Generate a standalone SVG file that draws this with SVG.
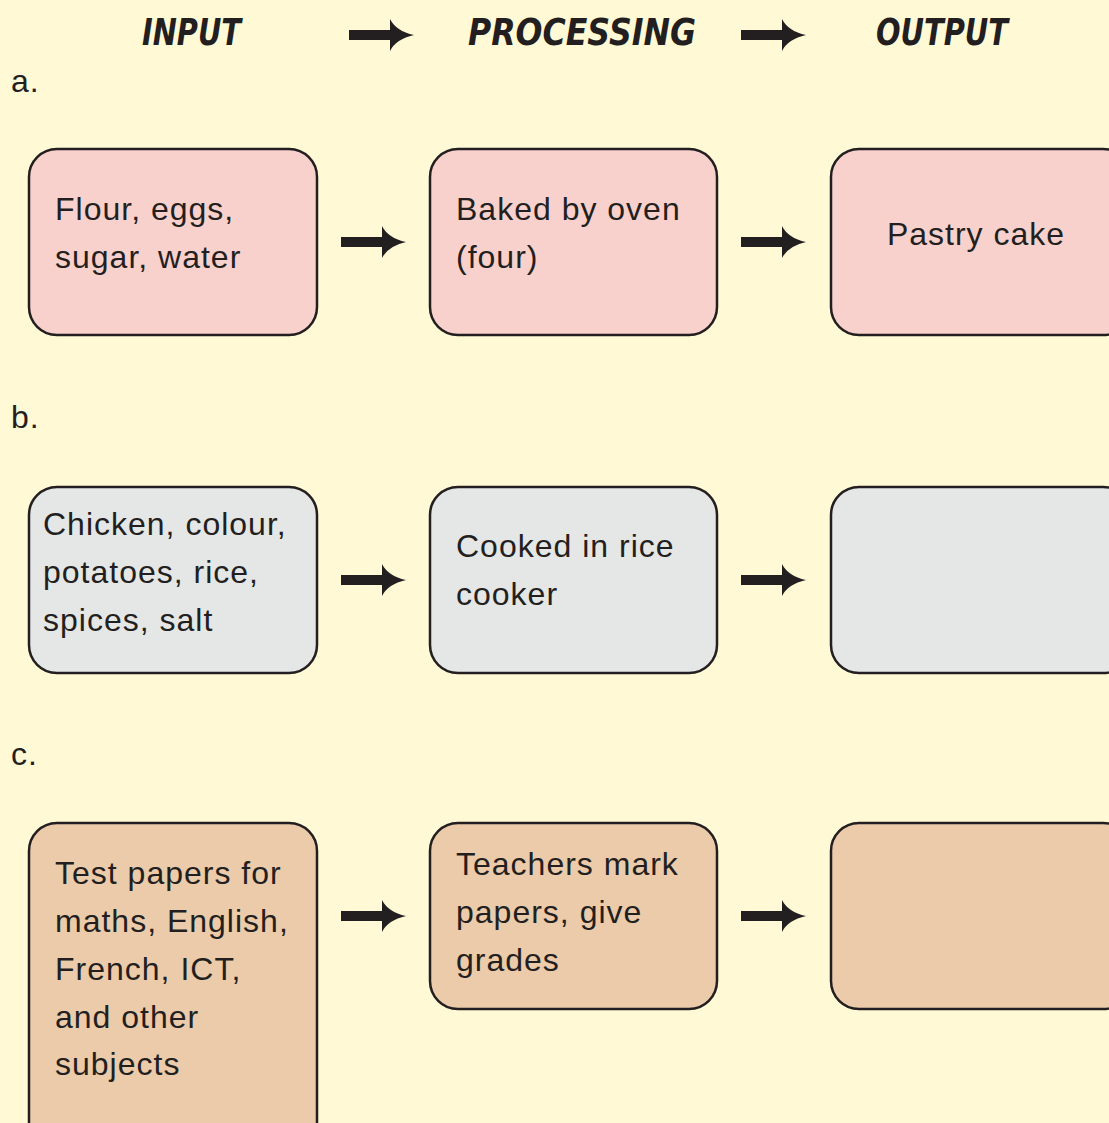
<svg xmlns="http://www.w3.org/2000/svg" width="1109" height="1123" viewBox="0 0 1109 1123">
<defs>
<style>
.bg{fill:#FFF9D6}
.box{stroke:#231F20;stroke-width:2.5}
.pink{fill:#F9D1CC}
.grey{fill:#E5E7E6}
.tan{fill:#EBCBA9}
.t{font-family:"Liberation Sans",Arial,sans-serif;font-size:32px;letter-spacing:1px;fill:#231F20}
.h{font-family:"Liberation Sans Narrow","DejaVu Sans Condensed","Liberation Sans",sans-serif;font-size:38px;font-weight:bold;font-style:italic;fill:#231F20}
.arr{fill:#231F20}
</style>
<path id="arrow" d="M0,-5 L41,-5 L41,-16 Q47,-4 65,0 Q47,4 41,16 L41,5 L0,5 Z"/>
</defs>
<rect class="bg" x="0" y="0" width="1109" height="1123"/>

<g id="header">
<text class="h" x="142" y="45" textLength="99" lengthAdjust="spacingAndGlyphs">INPUT</text>
<text class="h" x="468" y="45" textLength="228" lengthAdjust="spacingAndGlyphs">PROCESSING</text>
<text class="h" x="876" y="45" textLength="132" lengthAdjust="spacingAndGlyphs">OUTPUT</text>
</g>

<g id="labels">
<text class="t" x="11" y="92">a.</text>
<text class="t" x="11" y="428">b.</text>
<text class="t" x="11" y="765">c.</text>
</g>

<g id="node-a-input">
<rect class="box pink" x="29" y="149" width="288" height="186" rx="28"/>
<text class="t" x="55" y="220">Flour, eggs,</text>
<text class="t" x="55" y="268">sugar, water</text>
</g>
<g id="node-a-process">
<rect class="box pink" x="430" y="149" width="287" height="186" rx="28"/>
<text class="t" x="456" y="220">Baked by oven</text>
<text class="t" x="456" y="268">(four)</text>
</g>
<g id="node-a-output">
<rect class="box pink" x="831" y="149" width="300" height="186" rx="28"/>
<text class="t" x="976" y="245" text-anchor="middle">Pastry cake</text>
</g>

<g id="node-b-input">
<rect class="box grey" x="29" y="487" width="288" height="186" rx="28"/>
<text class="t" x="43" y="535">Chicken, colour,</text>
<text class="t" x="43" y="583">potatoes, rice,</text>
<text class="t" x="43" y="631">spices, salt</text>
</g>
<g id="node-b-process">
<rect class="box grey" x="430" y="487" width="287" height="186" rx="28"/>
<text class="t" x="456" y="557">Cooked in rice</text>
<text class="t" x="456" y="605">cooker</text>
</g>
<g id="node-b-output">
<rect class="box grey" x="831" y="487" width="300" height="186" rx="28"/>
</g>

<g id="node-c-input">
<rect class="box tan" x="29" y="823" width="288" height="330" rx="28"/>
<text class="t" x="55" y="884">Test papers for</text>
<text class="t" x="55" y="932">maths, English,</text>
<text class="t" x="55" y="980">French, ICT,</text>
<text class="t" x="55" y="1028">and other</text>
<text class="t" x="55" y="1075">subjects</text>
</g>
<g id="node-c-process">
<rect class="box tan" x="430" y="823" width="287" height="186" rx="28"/>
<text class="t" x="456" y="875">Teachers mark</text>
<text class="t" x="456" y="923">papers, give</text>
<text class="t" x="456" y="971">grades</text>
</g>
<g id="node-c-output">
<rect class="box tan" x="831" y="823" width="300" height="186" rx="28"/>
</g>

<g id="connectors" class="arr">
<use href="#arrow" x="349" y="35"/>
<use href="#arrow" x="741" y="35"/>
<use href="#arrow" x="341" y="242"/>
<use href="#arrow" x="741" y="242"/>
<use href="#arrow" x="341" y="580"/>
<use href="#arrow" x="741" y="580"/>
<use href="#arrow" x="341" y="916"/>
<use href="#arrow" x="741" y="916"/>
</g>
</svg>
